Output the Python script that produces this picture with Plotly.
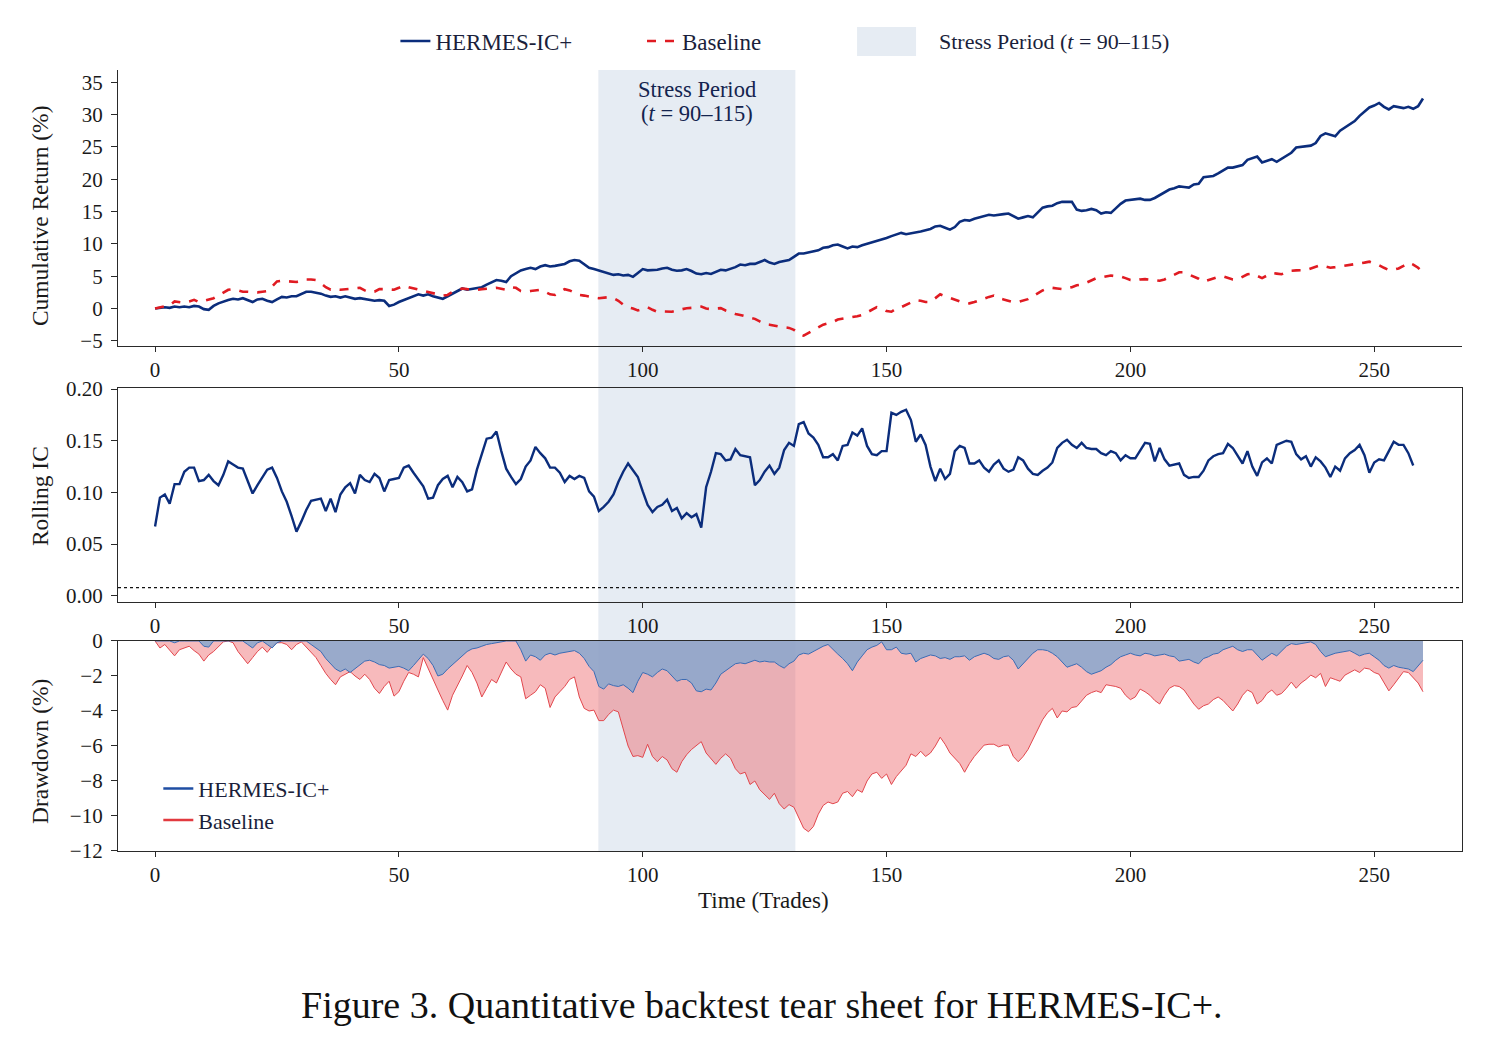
import plotly.graph_objects as go
from plotly.subplots import make_subplots

# ---------------- data ----------------
t_cum = list(range(261))
hermes_cum = [
    0.0, 0.1, 0.2, 0.1, 0.3, 0.2, 0.3, 0.2, 0.4, 0.3,
    -0.1, -0.2, 0.4, 0.8, 1.1, 1.3, 1.5, 1.4, 1.6, 1.3,
    1.0, 1.4, 1.5, 1.2, 1.0, 1.4, 1.8, 1.7, 1.9, 1.9,
    2.3, 2.6, 2.6, 2.5, 2.3, 2.0, 1.8, 1.9, 1.7, 1.9,
    1.7, 1.5, 1.6, 1.5, 1.4, 1.2, 1.3, 1.2, 0.4, 0.6,
    1.0, 1.3, 1.7, 2.0, 2.2, 2.0, 2.2, 1.9, 1.7, 1.5,
    1.9, 2.3, 2.6, 3.1, 2.9, 3.0, 3.2, 3.3, 3.7, 4.1,
    4.4, 4.3, 4.1, 5.0, 5.4, 5.9, 6.1, 6.3, 6.1, 6.5,
    6.7, 6.5, 6.6, 6.8, 6.9, 7.3, 7.5, 7.4, 6.8, 6.3,
    6.1, 5.9, 5.6, 5.5, 5.2, 5.3, 5.1, 5.2, 4.9, 5.5,
    6.1, 5.9, 5.9, 6.0, 6.2, 6.3, 6.0, 5.85, 5.9, 6.1,
    5.8, 5.4, 5.3, 5.5, 5.35, 5.7, 6.0, 5.9, 6.1, 6.4,
    6.8, 6.7, 6.9, 6.9, 7.2, 7.5, 7.1, 6.9, 7.2, 7.3,
    7.5, 8.0, 8.5, 8.5, 8.7, 8.8, 9.0, 9.4, 9.5, 9.8,
    9.9, 9.6, 9.3, 9.6, 9.5, 9.8, 10.0, 10.2, 10.4, 10.7,
    10.9, 11.2, 11.4, 11.7, 11.5, 11.6, 11.8, 11.9, 12.1, 12.3,
    12.7, 12.8, 12.5, 12.2, 12.6, 13.4, 13.7, 13.6, 13.9, 14.1,
    14.3, 14.5, 14.4, 14.45, 14.6, 14.7, 14.3, 13.9, 14.1, 14.3,
    14.1, 14.9, 15.6, 15.8, 15.9, 16.3, 16.5, 16.5, 16.5, 15.3,
    15.1, 15.2, 15.4, 15.2, 14.7, 14.9, 14.8, 15.5, 16.2, 16.7,
    16.8, 16.9, 17.0, 16.8, 16.8, 17.1, 17.5, 18.0, 18.4, 18.6,
    18.9, 18.8, 18.7, 19.2, 19.3, 20.3, 20.4, 20.5, 20.9, 21.4,
    21.8, 21.8, 22.0, 22.2, 23.0, 23.2, 23.5, 22.6, 22.8, 23.1,
    22.7, 23.2, 23.7, 24.1, 24.9, 25.0, 25.1, 25.2, 25.6, 26.7,
    27.1, 26.9, 26.65, 27.5, 28.0, 28.5, 29.0, 29.8, 30.5, 31.1,
    31.4, 31.8, 31.2, 30.8, 31.3, 31.2, 31.0, 31.2, 30.9, 31.3,
    32.5,
]
baseline_cum = [
    0.0, 0.2, 0.4, 0.5, 1.1, 1.0, 0.9, 1.1, 1.35, 1.0,
    1.2, 1.4, 1.6, 2.0, 2.4, 2.9, 3.0, 2.8, 2.6, 2.6,
    2.5, 2.5, 2.6, 2.7, 3.4, 4.2, 4.3, 4.2, 4.1, 4.1,
    4.3, 4.5, 4.5, 4.4, 3.9, 3.3, 2.9, 3.0, 2.9, 3.0,
    3.1, 3.2, 3.2, 2.8, 2.5, 2.6, 3.0, 3.0, 2.9, 2.9,
    3.2, 3.55, 3.3, 3.1, 2.9, 2.7, 2.6, 2.4, 2.2, 2.0,
    2.1, 2.6, 2.8, 3.1, 3.0, 2.9, 2.9, 3.0, 3.0, 3.1,
    3.2, 3.0, 2.9, 3.3, 3.2, 2.7, 2.6, 2.7, 2.8, 2.9,
    2.6, 2.2, 2.1, 2.5, 3.0, 2.8, 2.4, 2.1, 2.0, 1.8,
    1.7, 1.6, 1.7, 1.75, 1.6, 1.2, 0.6, 0.2, 0.0, -0.3,
    -0.1, 0.2, -0.2, -0.5, -0.45, -0.5, -0.5, -0.3, -0.1, 0.05,
    0.1, 0.2, 0.3, 0.0, -0.1, 0.0, 0.05, -0.3, -0.6, -0.85,
    -1.0, -1.2, -1.35, -1.6, -2.0, -2.4, -2.5, -2.7, -2.8, -2.9,
    -3.0, -3.3, -3.9, -4.2, -3.8, -3.3, -2.9, -2.5, -2.3, -2.1,
    -1.7, -1.6, -1.5, -1.4, -1.2, -1.0, -0.6, -0.1, 0.2, 0.0,
    -0.4, -0.5, 0.0, 0.2, 0.6, 1.0, 1.3, 1.2, 1.0, 1.0,
    1.6, 2.2, 1.9, 1.6, 1.3, 1.1, 0.9, 0.8, 1.0, 1.3,
    1.5, 1.8, 2.0, 1.6, 1.4, 1.2, 1.0, 1.0, 1.2, 1.45,
    1.9, 2.4, 2.8, 3.1, 3.2, 3.1, 3.0, 3.2, 3.3, 3.6,
    3.7, 4.0, 4.4, 4.7, 4.8, 5.0, 5.1, 5.0, 4.95, 4.7,
    4.4, 4.3, 4.5, 4.55, 4.5, 4.4, 4.3, 4.5, 4.9, 5.2,
    5.6, 5.6, 5.3, 5.0, 4.6, 4.15, 4.4, 4.75, 4.9, 5.0,
    4.8, 4.5, 4.5, 4.9, 5.3, 5.4, 5.0, 4.7, 5.1, 5.5,
    5.4, 5.3, 5.6, 5.85, 5.9, 5.9, 5.95, 6.2, 6.5, 6.7,
    6.5, 6.3, 6.4, 6.5, 6.6, 6.7, 6.8, 6.9, 7.1, 7.25,
    7.0, 6.7, 6.3, 5.95, 6.0, 6.2, 6.6, 7.1, 6.8, 6.3,
    5.55,
]

t_ic = list(range(259))
rolling_ic = [
    0.067, 0.095, 0.098, 0.089, 0.108, 0.108, 0.120, 0.124, 0.124, 0.111,
    0.112, 0.117, 0.111, 0.107, 0.117, 0.130, 0.127, 0.124, 0.123, 0.110,
    0.099, 0.107, 0.115, 0.122, 0.124, 0.114, 0.101, 0.091, 0.077, 0.062,
    0.072, 0.083, 0.092, 0.093, 0.094, 0.082, 0.094, 0.081, 0.098, 0.105,
    0.109, 0.099, 0.117, 0.112, 0.110, 0.118, 0.114, 0.101, 0.112, 0.113,
    0.114, 0.124, 0.126, 0.119, 0.112, 0.106, 0.094, 0.095, 0.107, 0.113,
    0.116, 0.105, 0.115, 0.110, 0.101, 0.103, 0.122, 0.138, 0.152, 0.153,
    0.159, 0.140, 0.123, 0.115, 0.108, 0.113, 0.125, 0.131, 0.144, 0.138,
    0.133, 0.124, 0.124, 0.119, 0.110, 0.116, 0.113, 0.116, 0.114, 0.101,
    0.096, 0.082, 0.086, 0.091, 0.098, 0.110, 0.120, 0.128, 0.122, 0.115,
    0.101, 0.088, 0.081, 0.086, 0.088, 0.093, 0.082, 0.085, 0.075, 0.080,
    0.076, 0.079, 0.066, 0.105, 0.120, 0.138, 0.137, 0.131, 0.132, 0.142,
    0.136, 0.135, 0.134, 0.107, 0.112, 0.120, 0.126, 0.118, 0.124, 0.141,
    0.148, 0.145, 0.166, 0.168, 0.157, 0.153, 0.146, 0.134, 0.134, 0.137,
    0.131, 0.145, 0.146, 0.158, 0.155, 0.162, 0.145, 0.137, 0.136, 0.140,
    0.140, 0.177, 0.175, 0.178, 0.180, 0.170, 0.149, 0.156, 0.146, 0.125,
    0.111, 0.123, 0.113, 0.118, 0.140, 0.145, 0.143, 0.128, 0.128, 0.131,
    0.124, 0.120, 0.127, 0.131, 0.123, 0.120, 0.122, 0.134, 0.131, 0.123,
    0.118, 0.117, 0.121, 0.124, 0.129, 0.143, 0.148, 0.151, 0.146, 0.143,
    0.148, 0.143, 0.142, 0.142, 0.138, 0.136, 0.140, 0.138, 0.131, 0.136,
    0.133, 0.133, 0.141, 0.148, 0.147, 0.130, 0.143, 0.132, 0.126, 0.127,
    0.128, 0.117, 0.114, 0.115, 0.115, 0.121, 0.131, 0.135, 0.137, 0.138,
    0.147, 0.143, 0.136, 0.128, 0.140, 0.125, 0.116, 0.129, 0.133, 0.128,
    0.146, 0.148, 0.150, 0.149, 0.137, 0.132, 0.135, 0.125, 0.134, 0.130,
    0.124, 0.115, 0.125, 0.121, 0.133, 0.138, 0.141, 0.146, 0.136, 0.119,
    0.129, 0.132, 0.131, 0.140, 0.149, 0.146, 0.146, 0.138, 0.126,
]
ic_threshold = 0.008

t_dd = list(range(261))
hermes_dd = [
    0, 0, 0, 0, -0.1, 0, 0, 0, 0, 0,
    -0.3, -0.35, 0, 0, 0, 0, 0, 0, 0, -0.2,
    -0.4, -0.1, 0, -0.2, -0.4, -0.1, 0, 0, 0, 0,
    0, 0, -0.2, -0.4, -0.6, -1.0, -1.3, -1.6, -1.75, -1.6,
    -1.8, -1.6, -1.4, -1.15, -1.1, -1.2, -1.35, -1.4, -1.55, -1.5,
    -1.45, -1.55, -1.7, -1.4, -1.1, -0.75, -1.0, -1.4, -2.0, -1.9,
    -1.6, -1.35, -1.1, -0.8, -0.6, -0.45, -0.4, -0.3, -0.2, -0.15,
    -0.1, -0.05, 0, 0, 0, -0.5, -1.15, -0.8, -0.9, -1.1,
    -0.8, -0.7, -0.8, -0.7, -0.65, -0.6, -0.55, -0.7, -1.0, -1.45,
    -1.75, -2.6, -2.75, -2.45, -2.55, -2.6, -2.5, -2.7, -2.95, -2.3,
    -1.8, -1.9, -2.05, -1.8, -1.6, -1.7, -2.0, -2.3, -2.2, -2.2,
    -2.4, -2.85, -2.9, -2.75, -2.8, -2.4, -1.9, -1.7, -1.5, -1.3,
    -1.25, -1.3, -1.2, -1.1, -1.2, -1.15, -1.2, -1.2, -1.4, -1.55,
    -1.3, -1.15, -0.8, -0.7, -0.75, -0.6, -0.45, -0.3, -0.2, -0.5,
    -0.75, -1.0, -1.3, -1.7, -1.2, -0.85, -0.5, -0.35, -0.25, -0.05,
    -0.5, -0.5, -0.35, -0.7, -0.75, -0.7, -1.2, -1.0, -0.9, -0.8,
    -0.85, -1.0, -0.95, -1.05, -0.9, -0.9, -0.85, -1.1, -0.9, -0.8,
    -0.7, -0.8, -1.0, -1.05, -0.9, -0.85, -1.1, -1.6, -1.3, -1.0,
    -0.7, -0.5, -0.5, -0.55, -0.7, -0.9, -1.2, -1.5, -1.4, -1.3,
    -1.5, -1.75, -1.9, -1.8, -1.7, -1.5, -1.35, -1.1, -0.9, -0.8,
    -0.7, -0.8, -0.85, -0.7, -0.75, -0.85, -0.8, -0.75, -0.85, -0.9,
    -1.15, -1.1, -1.05, -1.2, -1.3, -1.0, -0.9, -0.75, -0.7, -0.5,
    -0.4, -0.3, -0.5, -0.6, -0.5, -0.5, -0.8, -1.1, -0.9, -0.7,
    -0.85, -0.6, -0.3, -0.15, -0.2, -0.15, -0.1, -0.05, -0.2, -0.6,
    -0.9, -0.8, -0.7, -0.65, -0.6, -0.55, -0.7, -0.85, -0.75, -0.7,
    -0.9, -1.1, -1.4, -1.55, -1.4, -1.5, -1.55, -1.6, -1.75, -1.45,
    -1.1,
]
baseline_dd = [
    0, -0.4, -0.2, -0.5, -0.85, -0.5, -0.4, -0.3, -0.55, -0.75,
    -1.15, -0.8, -0.6, -0.35, -0.05, 0, -0.1, -0.6, -0.95, -1.3,
    -0.95, -0.6, -0.35, -0.65, -0.3, -0.1, -0.1, -0.2, -0.5, -0.2,
    -0.05, -0.35, -0.65, -0.95, -1.4, -1.85, -2.2, -2.5, -2.05, -1.9,
    -1.75, -2.0, -2.2, -1.9, -2.2, -2.7, -3.0, -2.6, -2.3, -3.15,
    -2.9, -2.3, -1.8, -1.9, -2.05, -0.95, -1.6, -2.25, -2.8, -3.4,
    -3.95, -3.1, -2.5, -2.0, -1.4, -1.8, -2.4, -3.2, -2.7, -2.2,
    -2.4, -1.8, -1.2, -1.6, -1.9, -2.05, -3.3, -3.1, -2.9, -2.5,
    -2.7, -3.8, -3.2, -2.9, -2.6, -2.2, -2.05, -3.2, -3.85, -4.0,
    -3.95, -4.55, -4.55, -4.2, -3.95, -4.05, -5.0, -6.0, -6.6, -6.55,
    -6.65, -5.9, -6.6, -6.9, -6.6, -6.8, -7.3, -7.5, -6.9, -6.5,
    -6.2, -5.95, -5.75, -6.4, -6.7, -7.05, -6.7, -6.45, -6.7, -7.3,
    -7.6, -7.5, -8.2, -8.0, -8.5, -8.8, -9.05, -8.7, -9.3, -9.6,
    -9.35, -9.5, -10.1, -10.7, -10.9, -10.6, -9.9, -9.4, -9.2, -9.3,
    -9.2, -8.7, -8.6, -8.9, -8.5, -8.65, -8.0, -7.6, -7.5, -7.85,
    -7.6, -8.2, -7.75, -7.4, -7.1, -6.45, -6.6, -6.3, -6.6, -6.4,
    -6.0, -5.5, -5.9, -6.4, -6.7, -7.0, -7.5, -7.0, -6.6, -6.25,
    -5.95, -5.9, -5.9, -6.05, -5.95, -5.95, -6.6, -6.9, -6.6, -6.2,
    -5.6, -5.1, -4.5, -4.1, -3.85, -4.4, -4.0, -4.05, -3.8, -3.75,
    -3.4, -3.1, -2.95, -2.85, -2.95, -2.5, -2.55, -2.6, -2.7, -3.1,
    -3.35, -3.2, -2.75, -2.9, -3.1, -3.4, -3.6, -3.1, -2.7, -2.55,
    -2.6, -2.8, -3.2, -3.6, -3.9, -3.7, -3.6, -3.35, -3.2, -3.4,
    -3.7, -4.0, -3.6, -3.1, -2.8, -2.95, -3.6, -3.4, -3.0, -2.8,
    -3.1, -3.0, -2.7, -2.35, -2.7, -2.4, -2.2, -1.95, -2.1, -1.85,
    -2.6, -2.1, -2.2, -2.3, -1.95, -1.8, -1.65, -1.8, -1.55, -1.6,
    -1.8, -1.9, -2.4, -2.85, -2.5, -2.1, -1.75, -1.8, -2.1, -2.4,
    -2.9,
]

stress_start = 90.9
stress_end = 131.3

x_ticks = [0, 50, 100, 150, 200, 250]
cum_ticks = [-5, 0, 5, 10, 15, 20, 25, 30, 35]
ic_ticks = [0.00, 0.05, 0.10, 0.15, 0.20]
dd_ticks = [0, -2, -4, -6, -8, -10, -12]

# ---------------- styles ----------------
FONT = "Liberation Serif, DejaVu Serif, Times New Roman, serif"
NAVY = "#0b2d7c"
RED = "#e01b22"
SHADE = "#e6ecf3"
TXT = "#1a1a1a"
LEGTXT = "#1b1f3b"
AX = "#2a2a2a"

fig = make_subplots(rows=3, cols=1)

# Panel 1: cumulative returns
fig.add_trace(go.Scatter(x=t_cum, y=hermes_cum, mode="lines", name="HERMES-IC+",
                         line=dict(color=NAVY, width=2.6), legend="legend"), row=1, col=1)
fig.add_trace(go.Scatter(x=t_cum, y=baseline_cum, mode="lines", name="Baseline",
                         line=dict(color=RED, width=2.6, dash="dash"), legend="legend3"), row=1, col=1)

# Panel 2: rolling IC
fig.add_trace(go.Scatter(x=t_ic, y=rolling_ic, mode="lines", showlegend=False,
                         line=dict(color=NAVY, width=2.4)), row=2, col=1)

# Panel 3: drawdowns
fig.add_trace(go.Scatter(x=t_dd, y=baseline_dd, mode="lines", fill="tozeroy",
                         fillcolor="rgba(236,96,100,0.43)", showlegend=False,
                         line=dict(color="#e2474d", width=1)), row=3, col=1)
fig.add_trace(go.Scatter(x=t_dd, y=hermes_dd, mode="lines", fill="tozeroy",
                         fillcolor="rgba(136,167,206,0.85)", showlegend=False,
                         line=dict(color="#3a6cb5", width=1)), row=3, col=1)
fig.add_trace(go.Scatter(x=[None], y=[None], mode="lines", name="HERMES-IC+",
                         line=dict(color="#1f4ea3", width=2.4), legend="legend2"), row=3, col=1)
fig.add_trace(go.Scatter(x=[None], y=[None], mode="lines", name="Baseline",
                         line=dict(color="#e23a3f", width=2.4), legend="legend2"), row=3, col=1)

# stress shading spanning all panels
fig.add_shape(type="rect", xref="x", yref="paper", x0=stress_start, x1=stress_end,
              y0=0, y1=1, fillcolor=SHADE, line=dict(width=0), layer="below")
# IC reference line
fig.add_shape(type="line", xref="x2 domain", yref="y2", x0=0, x1=1,
              y0=ic_threshold, y1=ic_threshold,
              line=dict(color="#111111", width=1.3, dash="dot"))
# legend patch for the stress period
fig.add_shape(type="rect", xref="paper", yref="paper", x0=0.5499, x1=0.5938,
              y0=1.0179, y1=1.0550, fillcolor=SHADE, line=dict(width=0))

xcommon = dict(range=[-7.6, 268], tickvals=x_ticks, ticks="outside", ticklen=5,
               tickwidth=1.2, tickcolor=AX, showline=True, linecolor=AX, linewidth=1.3,
               showgrid=False, zeroline=False, tickfont=dict(size=21, color=TXT, family=FONT))
ycommon = dict(ticks="outside", ticklen=6, tickwidth=1.2, tickcolor=AX, showline=True,
               linecolor=AX, linewidth=1.3, showgrid=False, zeroline=False,
               ticklabelstandoff=4,
               tickfont=dict(size=21, color=TXT, family=FONT))

fig.update_layout(
    xaxis=dict(**xcommon),
    xaxis2=dict(**xcommon, mirror=True),
    xaxis3=dict(**xcommon, mirror=True),
    yaxis=dict(**ycommon, domain=[0.6466, 1.0], range=[-5.8, 36.9], tickvals=cum_ticks),
    yaxis2=dict(**ycommon, domain=[0.3188, 0.5928], range=[-0.006, 0.201], tickvals=ic_ticks,
                tickformat=".2f", mirror=True),
    yaxis3=dict(**ycommon, domain=[0.0, 0.2689], range=[-12, 0], tickvals=dd_ticks, mirror=True),
)

legfont = dict(size=23, family=FONT, color=LEGTXT)
fig.update_layout(
    width=1492, height=1054,
    margin=dict(l=118, r=30, t=70, b=203),
    paper_bgcolor="white", plot_bgcolor="rgba(0,0,0,0)",
    font=dict(family=FONT, color=TXT, size=21),
    legend=dict(orientation="h", x=0.2064, xanchor="left", y=1.037, yanchor="middle",
                font=legfont, bgcolor="rgba(0,0,0,0)"),
    legend3=dict(orientation="h", x=0.3899, xanchor="left", y=1.037, yanchor="middle",
                 font=legfont, bgcolor="rgba(0,0,0,0)"),
    legend2=dict(orientation="v", x=0.030, xanchor="left", y=0.012, yanchor="bottom",
                 font=dict(size=22, family=FONT, color=LEGTXT), bgcolor="rgba(0,0,0,0)",
                 tracegroupgap=0),
)

annotations = [
    dict(text="Stress Period (<i>t</i> = 90–115)", xref="paper", yref="paper",
         x=0.6094, y=1.0371, xanchor="left", yanchor="middle", showarrow=False,
         font=dict(size=22, family=FONT, color=LEGTXT)),
    dict(text="Stress Period", xref="x", yref="paper",
         x=(stress_start + stress_end) / 2, y=0.9744, xanchor="center", yanchor="middle",
         showarrow=False, font=dict(size=22.5, family=FONT, color="#14244f")),
    dict(text="(<i>t</i> = 90–115)", xref="x", yref="paper",
         x=(stress_start + stress_end) / 2, y=0.9449, xanchor="center", yanchor="middle",
         showarrow=False, font=dict(size=22.5, family=FONT, color="#14244f")),
    dict(text="Cumulative Return (%)", xref="paper", yref="paper", x=-0.058, y=0.813,
         textangle=-90, showarrow=False, xanchor="center", yanchor="middle",
         font=dict(size=23.5, family=FONT, color=TXT)),
    dict(text="Rolling IC", xref="paper", yref="paper", x=-0.058, y=0.4545,
         textangle=-90, showarrow=False, xanchor="center", yanchor="middle",
         font=dict(size=23.5, family=FONT, color=TXT)),
    dict(text="Drawdown (%)", xref="paper", yref="paper", x=-0.058, y=0.128,
         textangle=-90, showarrow=False, xanchor="center", yanchor="middle",
         font=dict(size=23.5, family=FONT, color=TXT)),
    dict(text="Time (Trades)", xref="paper", yref="paper", x=0.48, y=-0.064,
         showarrow=False, xanchor="center", yanchor="middle",
         font=dict(size=23, family=FONT, color=TXT)),
    dict(text="Figure 3. Quantitative backtest tear sheet for HERMES-IC+.", xref="paper",
         yref="paper", x=0.479, y=-0.197, showarrow=False, xanchor="center", yanchor="middle",
         font=dict(size=38, family=FONT, color="#111111")),
]
fig.update_layout(annotations=annotations)

fig.write_html("out.html")
